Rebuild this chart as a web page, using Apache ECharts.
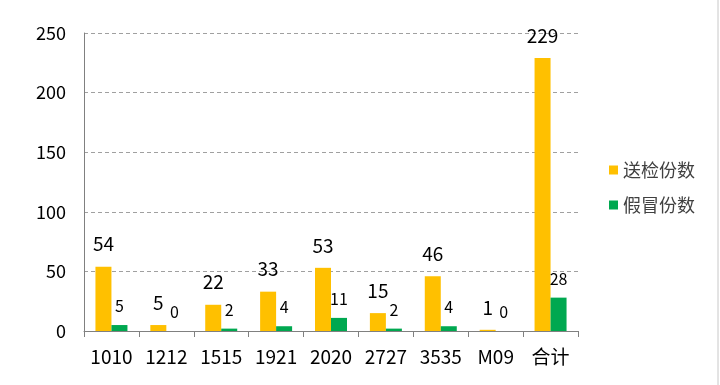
<!DOCTYPE html>
<html><head><meta charset="utf-8">
<script src="https://cdn.jsdelivr.net/npm/echarts@6/dist/echarts.min.js"></script>
<style>html,body{margin:0;padding:0;background:#fff}#c{width:720px;height:385px}</style>
</head><body><div id="c"></div>
<script>
const categories = ['1010','1212','1515','1921','2020','2727','3535','M09','合计'];
const sentCounts = [54,5,22,33,53,15,46,1,229];
const fakeCounts = [5,0,2,4,11,2,4,0,28];
const seriesNames = ['送检份数','假冒份数'];
const yTicks = {min:0,max:250,interval:50};
const font = "'Noto Sans CJK SC', 'Noto Sans', sans-serif";
const chart = echarts.init(document.getElementById('c'));
chart.setOption({
  animation:false,
  textStyle:{fontFamily:font},
  grid:{left:84,right:142,top:33,bottom:54},
  legend:{
    orient:'vertical', left:604, top:156, itemWidth:9, itemHeight:9, itemGap:17,
    icon:'rect',
    textStyle:{fontSize:18,color:'#404040',fontFamily:font},
    data:seriesNames
  },
  xAxis:{
    type:'category', data:categories,
    axisLine:{lineStyle:{color:'#808080'}},
    axisTick:{show:true,length:6,lineStyle:{color:'#808080'}},
    axisLabel:{fontSize:19,color:'#000',margin:16,fontFamily:font}
  },
  yAxis:{
    type:'value', min:yTicks.min, max:yTicks.max, interval:yTicks.interval,
    axisLine:{show:true,lineStyle:{color:'#808080'}},
    axisTick:{show:false},
    axisLabel:{fontSize:18,color:'#000',margin:18,fontFamily:font},
    splitLine:{lineStyle:{color:'#a0a0a0',type:[4,3]}}
  },
  series:[
    {name:seriesNames[0], type:'bar', data:sentCounts, barWidth:16, barGap:'0%',
     itemStyle:{color:'#FFC000'},
     label:{show:true,position:'top',distance:13,fontSize:19,color:'#000',fontFamily:font}},
    {name:seriesNames[1], type:'bar', data:fakeCounts, barWidth:16,
     itemStyle:{color:'#00A850'},
     label:{show:true,position:'top',distance:11,fontSize:16,color:'#000',fontFamily:font}}
  ],
  graphic:[{type:'line',shape:{x1:718,y1:0,x2:718,y2:385},style:{stroke:'#c8c8c8',lineWidth:1}}]
});
</script></body></html>
